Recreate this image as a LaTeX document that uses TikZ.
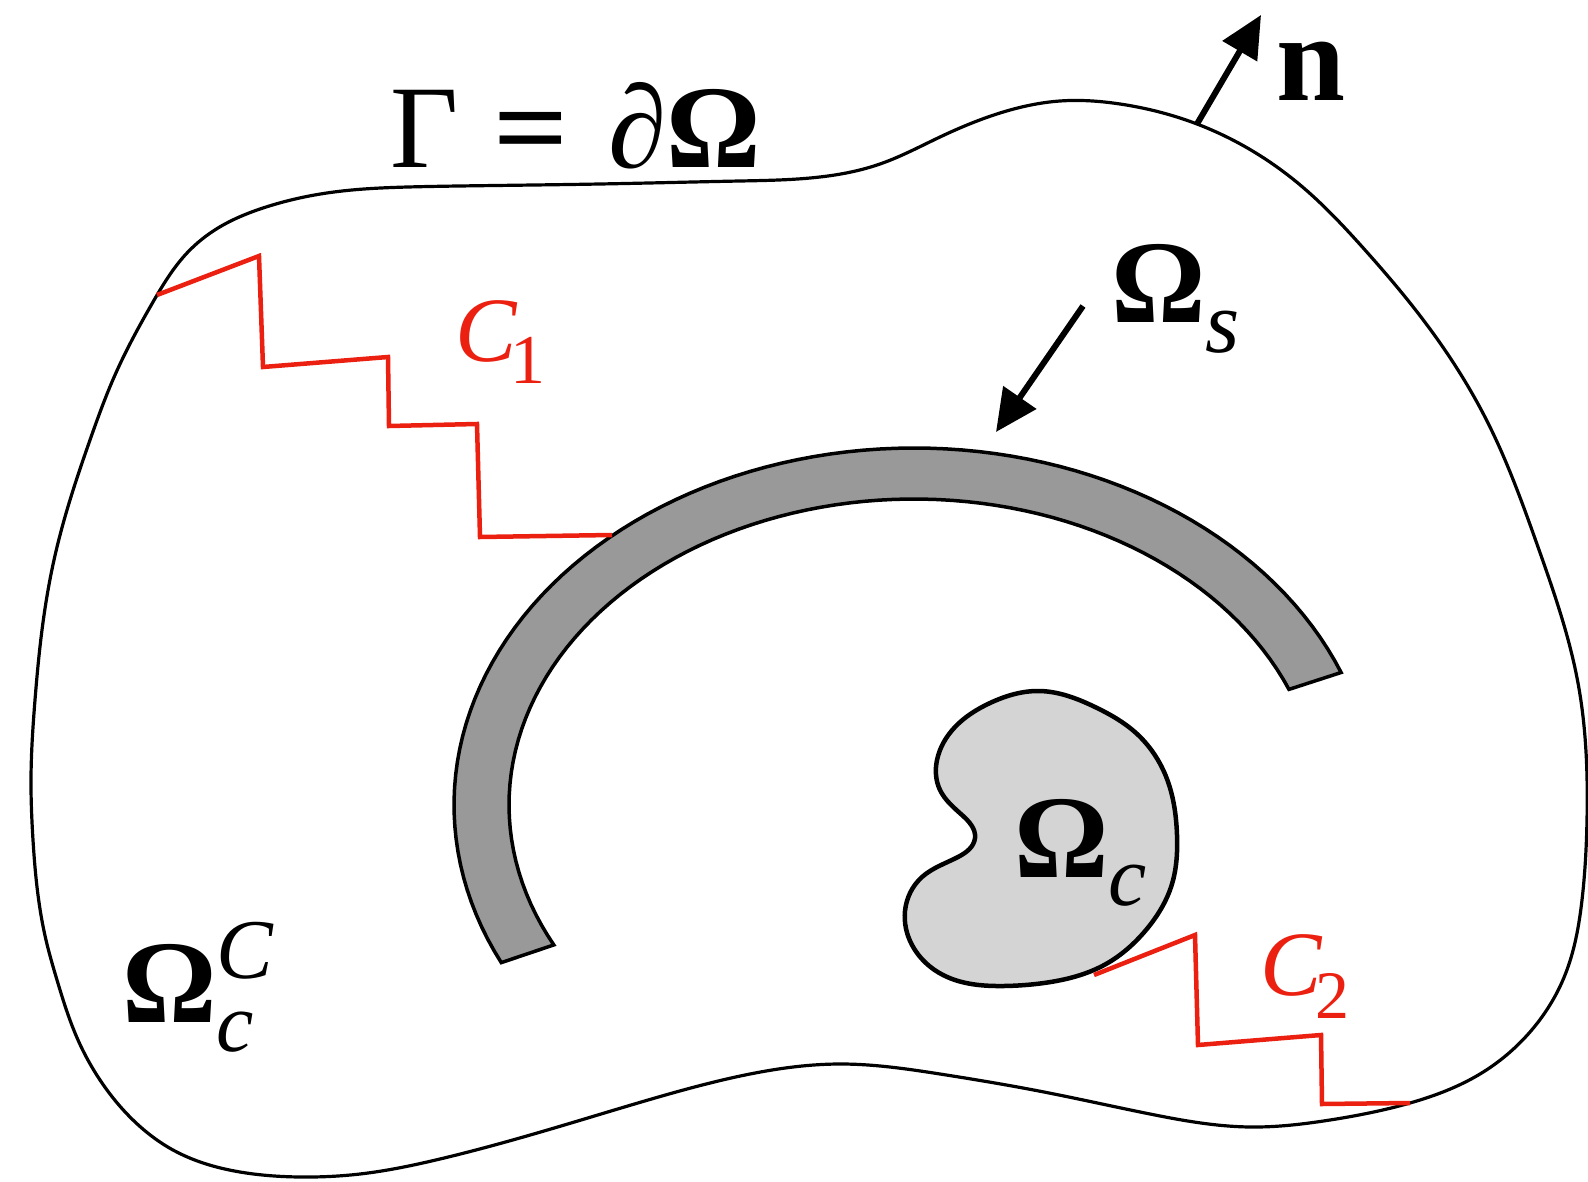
\documentclass[tikz,border=0pt]{standalone}
\usepackage{fontspec}
\setmainfont{Liberation Serif}
\usetikzlibrary{arrows.meta,hobby}
\definecolor{cred}{RGB}{235,32,16}
\definecolor{bandgray}{RGB}{153,153,153}
\definecolor{kidgray}{RGB}{212,212,212}
\begin{document}
\begin{tikzpicture}[x=1pt,y=-1pt,
  outline/.style={line width=3.2pt, draw=black},
  band/.style={line width=3.5pt, fill=bandgray, draw=black, line join=miter},
  kidney/.style={line width=4.5pt, fill=kidgray, draw=black},
  cpath/.style={line width=4.5pt, draw=cred, line join=miter},
  bigarrow/.style={line width=6pt, draw=black, -{Triangle[length=42pt,width=39pt]}},
  lbl/.style={inner sep=0pt, anchor=base west, font=\fontsize{118}{118}\selectfont},
  rlbl/.style={inner sep=0pt, anchor=base west, text=cred, font=\fontsize{92}{92}\selectfont\itshape},
]
\fill[white] (0,0) rectangle (1588,1182);
\useasboundingbox (0,0) rectangle (1588,1182);

% outer boundary Gamma
\draw[outline] plot[closed hobby] coordinates {
 (408,187) (459,186) (600,184) (740,181) (820,177) (880,164) (940,137)
 (1000,113) (1060,101) (1120,104) (1197,124) (1299,184) (1365,250)
 (1421,317) (1488,423) (1538,547) (1578,683) (1587,820) (1582,900)
 (1565,975) (1530,1032) (1480,1074) (1410,1103) (1330,1120) (1250,1127)
 (1150,1114) (1044,1092) (940,1074) (840,1064) (750,1074) (655,1098)
 (561,1126) (440,1159) (360,1174) (300,1177) (240,1172) (173,1150)
 (133,1120) (100,1080) (78,1040) (57,980) (46,940) (38,895) (33,840)
 (31,779) (35,700) (42,630) (54,560) (70,500) (90,440) (115,375) (153,302)
 (187,253) (218,228) (263,208) (334,192)};

% Omega_s band (elliptic arc of constant-ish thickness)
\draw[band] plot[domain=0:1, samples=90, variable=\t]
   ({914+460*cos(206.2-184.5*\t)},{805-357*sin(206.2-184.5*\t)})
 -- plot[domain=0:1, samples=90, variable=\t]
   ({914+405*cos(22.2+185.1*\t)},{805-306*sin(22.2+185.1*\t)})
 -- cycle;

% Omega_c kidney
\draw[kidney] plot[closed hobby] coordinates {
 (1039,691) (1095,707) (1136,733) (1167,779) (1177,835) (1172,884)
 (1146,930) (1106,964) (1044,983) (1004,986) (943,975) (912,945)
 (905,911) (922,877) (958,857) (975,838) (962,815) (940,790) (937,760)
 (955,727) (990,703)};

% C1 and C2 cuts
\draw[cpath] (157,295) -- (259,256) -- (263,367) -- (388,357) -- (389,426)
 -- (477,424) -- (480,537) -- (612,535);
\draw[cpath] (1094,975) -- (1195,935) -- (1198,1045) -- (1321,1035)
 -- (1322,1104) -- (1410,1103);

% arrows
\coordinate (nbase) at (1197,124);
\coordinate (ntip) at (1261,15);
\draw[bigarrow] (nbase) -- (ntip);
\coordinate (stail) at (1083,306);
\coordinate (stip) at (996,432);
\draw[bigarrow] (stail) -- (stip);

% labels
\node[lbl] (gamma) at (390,168) {Γ\hspace{0.3em}\scalebox{1.12}[1]{\textbf{=}}\hspace{0.33em}∂\textbf{Ω}};
\node[lbl, font=\fontsize{124}{124}\selectfont\bfseries] (nlabel) at (1276,101) {n};
\node[lbl] (omegas) at (1111,323) {\textbf{Ω}\raisebox{-30pt}{\fontsize{88}{88}\selectfont\itshape s}};
\node[lbl] (omegac) at (1014,877) {\textbf{Ω}\raisebox{-28pt}{\fontsize{86}{86}\selectfont\itshape c}};
\node[lbl] (omegacc) at (122,1022) {\textbf{Ω}\rlap{\raisebox{44pt}{\fontsize{85}{85}\selectfont\itshape C}}\raisebox{-29pt}{\fontsize{84}{84}\selectfont\itshape c}};
\node[rlbl] (c1) at (455,361) {C\kern-6pt\raisebox{-23pt}{\fontsize{70}{70}\selectfont\upshape 1}};
\node[rlbl] (c2) at (1260,995) {C\kern-6pt\raisebox{-23pt}{\fontsize{68}{68}\selectfont\upshape 2}};
\end{tikzpicture}
\end{document}
